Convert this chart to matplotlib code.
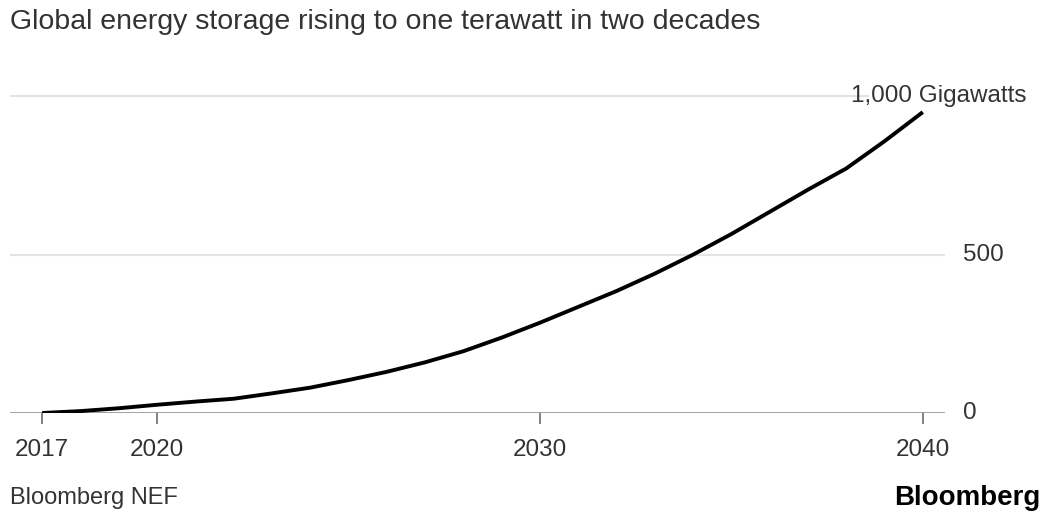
import matplotlib.pyplot as plt

# Global energy storage capacity, gigawatts
years = [2017, 2018, 2019, 2020, 2021, 2022, 2023, 2024, 2025, 2026, 2027, 2028,
         2029, 2030, 2031, 2032, 2033, 2034, 2035, 2036, 2037, 2038, 2039, 2040]
gigawatts = [0, 6, 15, 26, 36, 45, 62, 80, 104, 130, 160, 195,
             238, 285, 335, 385, 440, 500, 565, 635, 705, 772, 858, 950]

x_ticks = [2017, 2020, 2030, 2040]
y_ticks = [0, 500, 1000]
y_labels = ["0", "500", "1,000 Gigawatts"]

plt.rcParams['font.family'] = ['Liberation Sans', 'DejaVu Sans']
text_color = '#333333'

fig = plt.figure(figsize=(10.46, 5.18), dpi=100)
ax = fig.add_axes([10 / 1046, 105 / 518, 935 / 1046, 350 / 518])

ax.set_xlim(2016.16, 2040.58)
ax.set_ylim(0, 1105)

# Gridlines: the 1,000 line stops short of its label
ax.hlines(500, 2016.16, 2040.58, color='#e3e3e3', lw=1.5, zorder=1)
ax.hlines(1000, 2016.16, 2038.6, color='#e3e3e3', lw=1.5, zorder=1)
ax.axhline(0, color='#9a9a9a', lw=2, zorder=2)

ax.plot(years, gigawatts, color='black', lw=2.8, solid_capstyle='butt',
        solid_joinstyle='round', zorder=3)

for spine in ax.spines.values():
    spine.set_visible(False)

ax.set_xticks(x_ticks)
ax.set_xticklabels([str(t) for t in x_ticks])
ax.tick_params(axis='x', direction='out', length=8, width=1.3, color='#777777',
               labelsize=17.5, labelcolor=text_color, pad=11)
ax.set_yticks([])

for v, lab in zip(y_ticks, y_labels):
    if v == 1000:
        ax.text(2040.42, v, lab, ha='center', va='center', fontsize=17.5, color=text_color)
    else:
        ax.text(1.019, v, lab, transform=ax.get_yaxis_transform(), ha='left',
                va='center', fontsize=17.5, color=text_color)

fig.text(10 / 1046, 1 - 22 / 518, "Global energy storage rising to one terawatt in two decades",
         ha='left', va='center', fontsize=20.5, color=text_color)
fig.text(10 / 1046, 1 - 498 / 518, "Bloomberg NEF", ha='left', va='center',
         fontsize=17, color=text_color)
fig.text(1040 / 1046, 1 - 498 / 518, "Bloomberg", ha='right', va='center',
         fontsize=20, fontweight='bold', color='black')

fig.savefig('out.png', dpi=100)
